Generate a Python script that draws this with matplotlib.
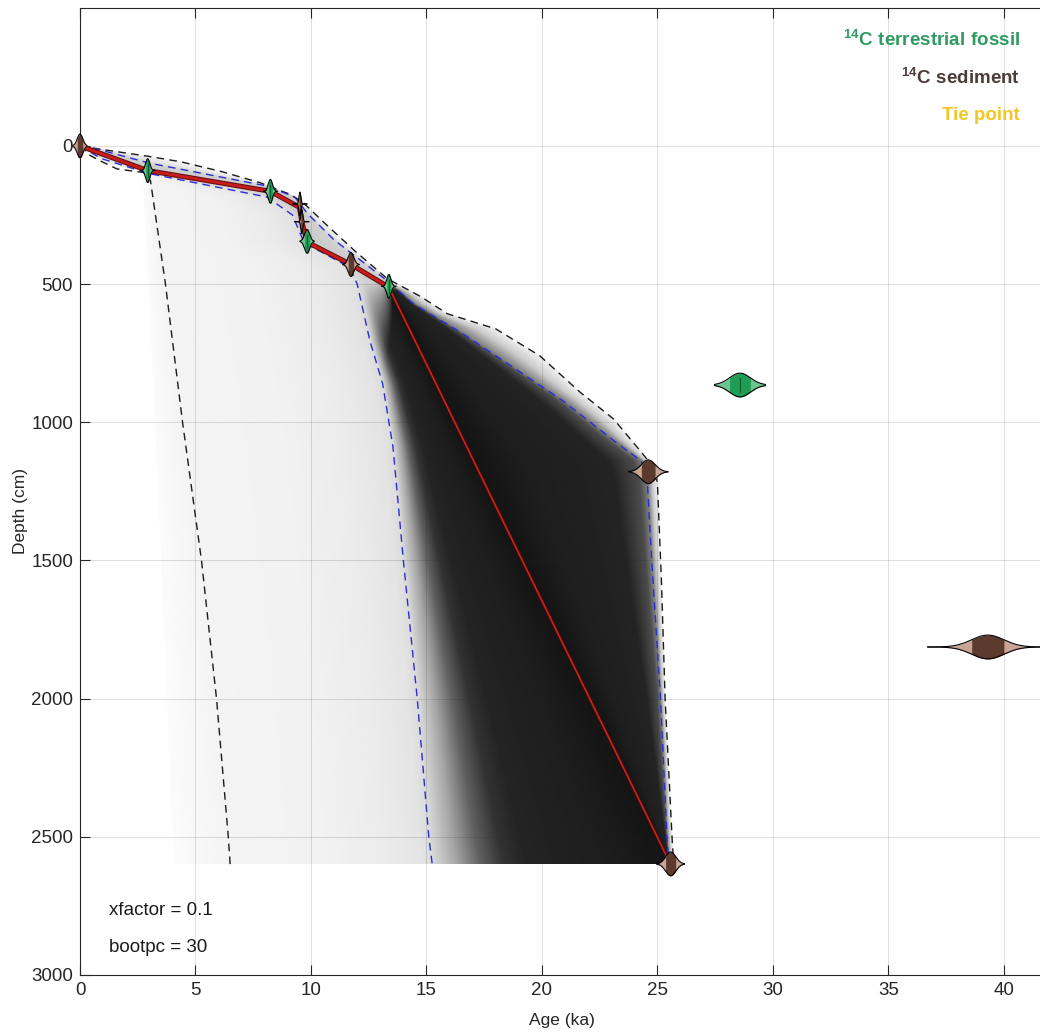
import numpy as np
import matplotlib.pyplot as plt

plt.rcParams['font.family'] = ['Liberation Sans', 'DejaVu Sans']
plt.rcParams['mathtext.fontset'] = 'custom'
plt.rcParams['mathtext.rm'] = 'Liberation Sans'
plt.rcParams['mathtext.bf'] = 'Liberation Sans:bold'

# --- age-depth model curves (age in ka, depth in cm) ---
median_age = [0, 2.93, 8.24, 9.5, 9.6, 9.83, 11.73, 13.37, 25.57]
median_depth = [0, 89, 164, 222, 272, 348, 429, 511, 2600]

lo68_age = [0, 0.9, 3.0, 8.1, 9.2, 9.7, 11.7, 12.0, 12.55, 13.1, 13.55, 14.0, 14.6, 15.1, 15.25]
lo68_depth = [0, 45, 100, 185, 250, 350, 440, 500, 705, 860, 1090, 1500, 2000, 2500, 2600]

hi68_age = [0, 0.9, 3.0, 8.1, 9.3, 9.85, 11.0, 13.1, 14.45, 16.6, 18.75, 20.9, 23.1, 24.3,
            24.55, 24.75, 25.13, 25.41, 25.5]
hi68_depth = [0, 15, 62, 145, 185, 245, 340, 475, 572, 681, 801, 922, 1066, 1140,
              1200, 1500, 2000, 2500, 2600]

lo95_age = [0, 0.45, 1.0, 1.6, 2.75, 3.05, 3.7, 4.44, 5.26, 5.91, 6.42, 6.5]
lo95_depth = [0, 35, 59, 83, 96, 125, 500, 1000, 1500, 2000, 2500, 2600]

hi95_age = [0, 0.9, 3.0, 4.35, 6.1, 7.8, 9.0, 9.6, 10.6, 11.9, 13.3, 14.75, 15.9, 18.0,
            19.9, 21.65, 23.1, 24.3, 24.9, 25.0, 25.17, 25.33, 25.63, 25.7]
hi95_depth = [0, 12, 38, 57, 92, 133, 172, 200, 280, 380, 480, 545, 607, 662,
              759, 891, 988, 1108, 1170, 1223, 1571, 2000, 2500, 2600]

# left edge of the bootstrap cloud
cloud_edge_age = [0, 0.4, 1.0, 2.7, 2.95, 3.5, 4.05]
cloud_edge_depth = [0, 40, 65, 100, 500, 1500, 2600]

# --- dated samples ---
sample_age = [0.0, 2.93, 8.24, 9.52, 9.60, 9.83, 11.73, 13.37, 24.60, 25.57, 28.57, 39.30]
sample_depth = [0, 89, 164, 210, 274, 345, 429, 508, 1179, 2598, 865, 1813]
sample_sigma = [0.12, 0.09, 0.09, 0.04, 0.04, 0.11, 0.12, 0.09, 0.30, 0.22, 0.45, 0.70]
sample_tail = [0.3, 0.3, 0.3, 0.3, 0.3, 0.3, 0.35, 0.3, 0.85, 0.6, 1.1, 2.6]
sample_type = ['sed', 'fossil', 'fossil', 'sed', 'sed', 'fossil', 'sed', 'fossil',
               'sed', 'sed', 'fossil', 'sed']

violin_colors = {'fossil': ('#6cc58e', '#1f9d55'), 'sed': ('#c9a394', '#5c3a2e')}
violin_half_height = 43

fig = plt.figure(figsize=(10.4, 10.32), dpi=100)
ax = fig.add_axes([80 / 1040, 57 / 1032, 960 / 1040, 967.2 / 1032])

# --- grey probability cloud built from the confidence curves ---
grid_age = np.arange(0, 42.0, 0.02)
grid_depth = np.arange(0, 2601, 2)
bounds = [(cloud_edge_age, cloud_edge_depth), (lo95_age, lo95_depth), (lo68_age, lo68_depth),
          (median_age, median_depth), (hi68_age, hi68_depth), (hi95_age, hi95_depth)]
K = np.column_stack([np.interp(grid_depth, d, a) for a, d in bounds])
K = np.maximum.accumulate(K, axis=1)
A = grid_age[None, :]
p = np.zeros((len(grid_depth), len(grid_age)))
for j in range(5):
    lo = K[:, j:j + 1]
    hi = K[:, j + 1:j + 2]
    p += np.clip((A - lo) / np.maximum(hi - lo, 1e-6), 0, 1)
inside = (A >= K[:, :1]) & (A <= K[:, 5:6])

shade_pos = [0, 1, 1.5, 1.75, 1.95, 2.0, 2.1, 2.2, 2.3, 2.4, 2.7, 3.0, 3.3, 3.8, 3.95, 4.0, 4.5, 5.0]
dark_gray = [0.985, 0.955, 0.945, 0.925, 0.895, 0.86, 0.65, 0.38, 0.2, 0.14, 0.12, 0.08,
             0.12, 0.14, 0.3, 0.5, 0.8, 0.95]
light_gray = [0.985, 0.955, 0.945, 0.925, 0.895, 0.87, 0.85, 0.84, 0.83, 0.82, 0.8, 0.78,
              0.8, 0.82, 0.84, 0.86, 0.92, 0.97]
shade_dark = np.interp(p, shade_pos, dark_gray)
shade_light = np.interp(p, shade_pos, light_gray)
# the dark core only builds up below the 13.4 ka tie, more slowly on the young side
ramp = 30 + 320 * np.clip(3 - p, 0, 1)
w = np.clip((grid_depth[:, None] - 495) / ramp, 0, 1)
shade = w * shade_dark + (1 - w) * shade_light
shade[~inside] = 1.0
ax.imshow(shade, cmap='gray', vmin=0, vmax=1, extent=(0, 42, 2600, 0), origin='upper',
          aspect='auto', interpolation='bilinear', zorder=0)

# --- confidence lines ---
dash = (5.5, 3.8)
ax.plot(lo95_age, lo95_depth, color='#1a1a1a', lw=1.0, dashes=dash, zorder=3)
ax.plot(hi95_age, hi95_depth, color='#1a1a1a', lw=1.0, dashes=dash, zorder=3)
ax.plot(lo68_age, lo68_depth, color='#2b2bd6', lw=1.0, dashes=dash, zorder=3)
ax.plot(hi68_age, hi68_depth, color='#2b2bd6', lw=1.0, dashes=dash, zorder=3)

# --- median ---
n_up = 8
ax.plot(median_age[:n_up], median_depth[:n_up], color='#5c0d0d', lw=3.6, zorder=4,
        solid_capstyle='round')
ax.plot(median_age[:n_up], median_depth[:n_up], color='#c81c1c', lw=2.2, zorder=4,
        solid_capstyle='round')
ax.plot(median_age[n_up - 1:], median_depth[n_up - 1:], color='#5c0d0d', lw=2.0, zorder=4)
ax.plot(median_age[n_up - 1:], median_depth[n_up - 1:], color='#d42020', lw=1.0, zorder=4)

# --- sample violins ---
for age, depth, sigma, tail, kind in zip(sample_age, sample_depth, sample_sigma,
                                         sample_tail, sample_type):
    outer, inner = violin_colors[kind]
    x = np.linspace(age - tail, age + tail, 400)
    h = violin_half_height * np.exp(-0.5 * ((x - age) / sigma) ** 2)
    ax.fill_between(x, depth - h, depth + h, color=outer, lw=0, zorder=6, clip_on=False)
    m = np.abs(x - age) <= sigma
    ax.fill_between(x[m], depth - h[m], depth + h[m], color=inner, lw=0, zorder=6, clip_on=False)
    if kind == 'fossil':
        hm = violin_half_height * 0.55
        ax.plot([age, age], [depth - hm, depth + hm], color='#0d5a2e', lw=0.8, zorder=6)
    ax.plot(x, depth - h, color='black', lw=0.8, zorder=7, clip_on=False)
    ax.plot(x, depth + h, color='black', lw=0.8, zorder=7, clip_on=False)

# --- legend texts ---
ax.text(40.69, -384, r'$\mathbf{^{14}C\ terrestrial\ fossil}$', color='#2e9b63',
        fontsize=13.5, ha='right', va='center', zorder=8)
ax.text(40.69, -246, r'$\mathbf{^{14}C\ sediment}$', color='#4a3c38',
        fontsize=13.5, ha='right', va='center', zorder=8)
ax.text(40.69, -112, 'Tie point', color='#f2c623', fontsize=13.5, fontweight='bold',
        ha='right', va='center', zorder=8)

ax.text(1.26, 2765, 'xfactor = 0.1', fontsize=13.5, ha='left', va='center', color='#1a1a1a')
ax.text(1.26, 2902, 'bootpc = 30', fontsize=13.5, ha='left', va='center', color='#1a1a1a')

# --- axes styling ---
ax.set_xlim(0, 41.56)
ax.set_ylim(3000, -500)
ax.set_xticks(np.arange(0, 45, 5))
ax.set_yticks(np.arange(0, 3001, 500))
ax.grid(True, color=(0.15, 0.15, 0.15), alpha=0.15, lw=0.7)
ax.spines['right'].set_visible(False)
for s in ['left', 'bottom', 'top']:
    ax.spines[s].set_color('#262626')
    ax.spines[s].set_linewidth(0.8)
ax.tick_params(top=True, right=False, direction='in', length=7, width=0.8,
               labelsize=13.5, colors='#262626', pad=5)
ax.set_xlabel('Age (ka)', fontsize=12.5, color='#262626')
ax.set_ylabel('Depth (cm)', fontsize=12.5, color='#262626')
ax.xaxis.set_label_coords(0.502, -0.039)
ax.yaxis.set_label_coords(-0.054, 0.48)

fig.savefig('out.png', dpi=100)
